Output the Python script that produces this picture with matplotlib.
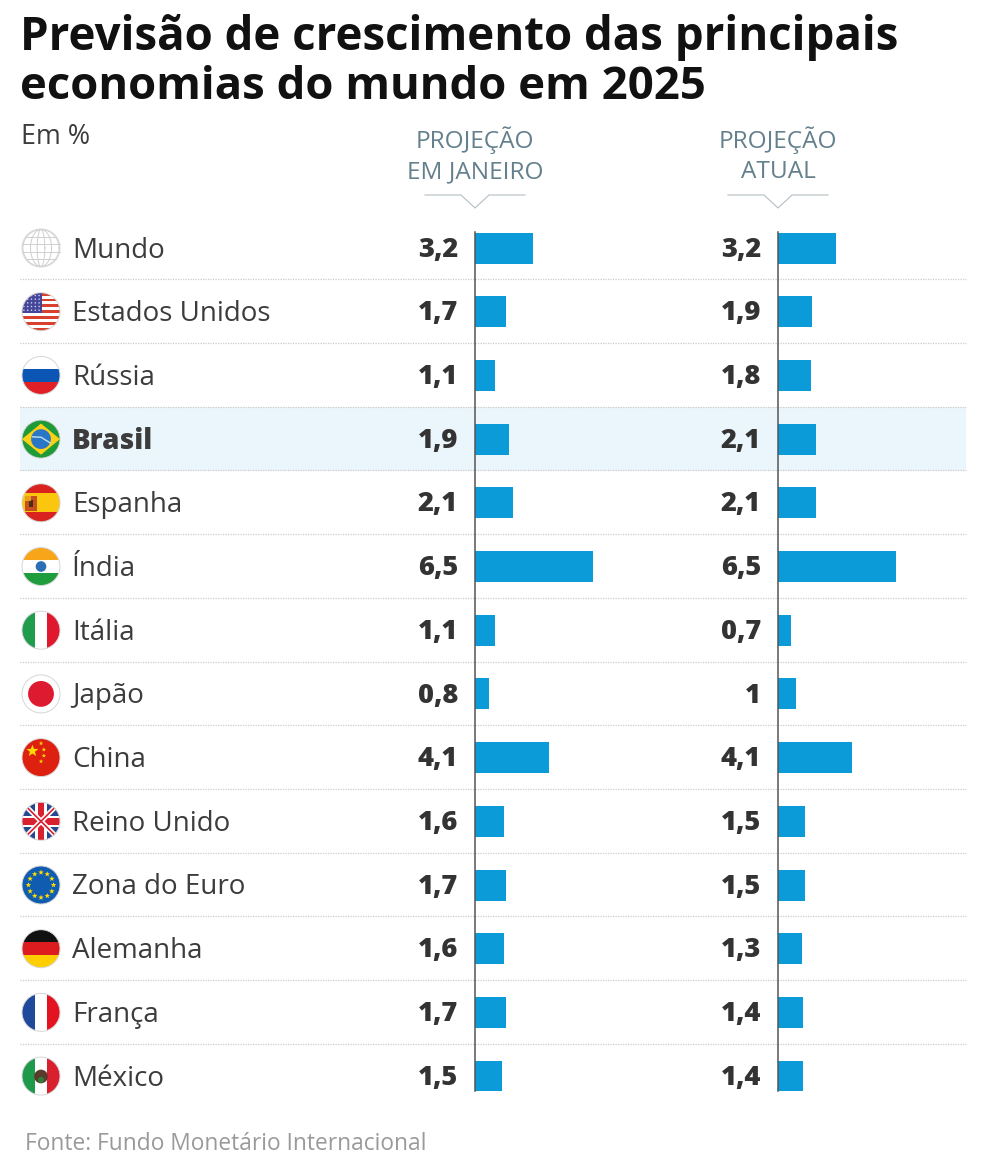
import numpy as np
import matplotlib
matplotlib.use('Agg')
import matplotlib.pyplot as plt
from matplotlib.patches import Circle, Rectangle, Polygon

plt.rcParams['font.family'] = ['Open Sans', 'DejaVu Sans']

### data
countries = ['Mundo', 'Estados Unidos', 'Rússia', 'Brasil', 'Espanha', 'Índia', 'Itália',
             'Japão', 'China', 'Reino Unido', 'Zona do Euro', 'Alemanha', 'França', 'México']
proj_janeiro = [3.2, 1.7, 1.1, 1.9, 2.1, 6.5, 1.1, 0.8, 4.1, 1.6, 1.7, 1.6, 1.7, 1.5]
proj_atual = [3.2, 1.9, 1.8, 2.1, 2.1, 6.5, 0.7, 1.0, 4.1, 1.5, 1.5, 1.3, 1.4, 1.4]
headers = [('PROJEÇÃO', 'EM JANEIRO'), ('PROJEÇÃO', 'ATUAL')]

W, H = 984, 1172
ROW0, ROW_H = 248, 63.7
BAR_X = [475, 778]
PX_PER_UNIT = 18.1
AX_TOP, AX_BOTTOM = 232, 1091
BLUE = '#0A9BD8'
TEXT = '#3C3C3C'


def label(v):
    return f'{v:g}'.replace('.', ',')


fig = plt.figure(figsize=(W / 100, H / 100), dpi=100, facecolor='white')

# background layer in pixel coordinates
bg = fig.add_axes([0, 0, 1, 1])
bg.set_xlim(0, W)
bg.set_ylim(H, 0)
bg.axis('off')


def star(ax, cx, cy, r, color, clip):
    a = np.arange(10) * np.pi / 5 - np.pi / 2
    rad = np.where(np.arange(10) % 2 == 0, r, r * 0.42)
    p = Polygon(np.c_[cx + rad * np.cos(a), cy + rad * np.sin(a)], fc=color, ec='none', zorder=4)
    ax.add_patch(p)
    p.set_clip_path(clip)


def flag(ax, name, cx, cy, r=19):
    clip = Circle((cx, cy), r, transform=ax.transData)

    def rect(x0, y0, x1, y1, color):
        # coordinates relative to the circle, -1..1
        p = Rectangle((cx + x0 * r, cy + y0 * r), (x1 - x0) * r, (y1 - y0) * r, fc=color, ec='none', zorder=3)
        ax.add_patch(p)
        p.set_clip_path(clip)

    def poly(pts, color):
        pts = np.array(pts) * r + [cx, cy]
        p = Polygon(pts, fc=color, ec='none', zorder=3)
        ax.add_patch(p)
        p.set_clip_path(clip)

    def disc(x, y, rad, color, ec='none', lw=0):
        p = Circle((cx + x * r, cy + y * r), rad * r, fc=color, ec=ec, lw=lw, zorder=4)
        ax.add_patch(p)
        p.set_clip_path(clip)

    if name == 'Mundo':
        disc(0, 0, 1, 'white')
        grey = '#CFCFCF'
        for w in [0.95, 0.55, 0.2]:
            t = np.linspace(0, 2 * np.pi, 80)
            ax.plot(cx + w * r * np.cos(t), cy + 0.97 * r * np.sin(t), color=grey, lw=0.7, zorder=5)
        for h in [-0.6, -0.2, 0.2, 0.6]:
            half = np.sqrt(1 - h ** 2) * r
            ax.plot([cx - half, cx + half], [cy + h * r, cy + h * r], color=grey, lw=0.7, zorder=5)
    elif name == 'Estados Unidos':
        rect(-1, -1, 1, 1, 'white')
        for i in range(7):
            y0 = -1 + i * 2 / 6.5
            rect(-1, y0, 1, y0 + 2 / 13, '#D8412F')
        rect(-1, -1, 0.05, 0.08, '#44469A')
        for y in np.linspace(-0.85, -0.08, 5):
            for x in np.linspace(-0.9, -0.1, 5):
                disc(x, y, 0.04, '#D5D5EE')
    elif name == 'Rússia':
        rect(-1, -1, 1, -0.33, 'white')
        rect(-1, -0.33, 1, 0.33, '#0B55B5')
        rect(-1, 0.33, 1, 1, '#E01F26')
    elif name == 'Brasil':
        rect(-1, -1, 1, 1, '#1E9A39')
        poly([(-1, 0), (0, -0.82), (1, 0), (0, 0.82)], '#FBD116')
        disc(0, 0, 0.52, '#2A76C6')
        ax.plot(cx + np.array([-0.45, 0, 0.48]) * r, cy + np.array([-0.12, -0.1, 0.2]) * r,
                color='#BFE0F0', lw=1.0, zorder=5)
    elif name == 'Espanha':
        rect(-1, -1, 1, 1, '#D9231F')
        rect(-1, -0.5, 1, 0.5, '#FBC70E')
        rect(-0.85, -0.35, -0.2, 0.42, '#C8501C')
        rect(-0.65, -0.15, -0.4, 0.2, '#4A3018')
        rect(-0.85, -0.35, -0.55, -0.1, '#E8A020')
    elif name == 'Índia':
        rect(-1, -1, 1, -0.33, '#F9A51A')
        rect(-1, -0.33, 1, 0.33, 'white')
        rect(-1, 0.33, 1, 1, '#1F9C3C')
        disc(0, 0, 0.28, '#2A6FB5')
    elif name == 'Itália':
        rect(-1, -1, -0.33, 1, '#1F9C4C')
        rect(-0.33, -1, 0.33, 1, 'white')
        rect(0.33, -1, 1, 1, '#E0182D')
    elif name == 'Japão':
        disc(0, 0, 1, 'white')
        disc(0, 0, 0.68, '#DE1A30')
    elif name == 'China':
        rect(-1, -1, 1, 1, '#DE2010')
        star(ax, cx - 0.45 * r, cy - 0.35 * r, 0.33 * r, '#FFD800', clip)
        for x, y in [(0.0, -0.75), (0.15, -0.42), (0.15, -0.1), (0.0, 0.2)]:
            star(ax, cx + x * r, cy + y * r, 0.12 * r, '#FFD800', clip)
    elif name == 'Reino Unido':
        rect(-1, -1, 1, 1, '#27478F')
        for s in [1, -1]:
            ax.plot([cx - r, cx + r], [cy - s * r, cy + s * r], color='white', lw=3.6, zorder=3.1,
                    clip_path=clip, solid_capstyle='butt')
            ax.plot([cx - r, cx + r], [cy - s * r, cy + s * r], color='#D8202F', lw=1.2, zorder=3.2,
                    clip_path=clip, solid_capstyle='butt')
        rect(-1, -0.3, 1, 0.3, 'white')
        rect(-0.3, -1, 0.3, 1, 'white')
        rect(-1, -0.17, 1, 0.17, '#D8202F')
        rect(-0.17, -1, 0.17, 1, '#D8202F')
    elif name == 'Zona do Euro':
        rect(-1, -1, 1, 1, '#0F5CB0')
        for a in np.arange(12) * np.pi / 6:
            star(ax, cx + 0.66 * r * np.cos(a), cy + 0.66 * r * np.sin(a), 0.15 * r, '#FFDD00', clip)
    elif name == 'Alemanha':
        rect(-1, -1, 1, -0.33, '#111111')
        rect(-1, -0.33, 1, 0.33, '#DD1C1F')
        rect(-1, 0.33, 1, 1, '#FFCE00')
    elif name == 'França':
        rect(-1, -1, -0.33, 1, '#1F4A9C')
        rect(-0.33, -1, 0.33, 1, 'white')
        rect(0.33, -1, 1, 1, '#E3141F')
    elif name == 'México':
        rect(-1, -1, -0.33, 1, '#1F9A4A')
        rect(-0.33, -1, 0.33, 1, 'white')
        rect(0.33, -1, 1, 1, '#D9202E')
        disc(0, 0.02, 0.36, '#5A3A2A')
        disc(0, 0.2, 0.16, '#2E7D3A')
    ax.add_patch(Circle((cx, cy), r, fc='none', ec='#D6D6D6', lw=0.7, zorder=6))


# title and notes
bg.text(20, 50, 'Previsão de crescimento das principais', fontsize=32.85, fontweight='bold',
        color='#111111', va='baseline', ha='left')
bg.text(20, 99, 'economias do mundo em 2025', fontsize=32.75, fontweight='bold',
        color='#111111', va='baseline', ha='left')
bg.text(21, 144, 'Em %', fontsize=19.4, color=TEXT, va='baseline')
bg.text(25, 1150, 'Fonte: Fundo Monetário Internacional', fontsize=16.35, color='#9A9A9A', va='baseline')

# highlight row
bg.add_patch(Rectangle((20, ROW0 + 3 * ROW_H - ROW_H / 2), 946, ROW_H, fc='#EBF6FC', ec='none', zorder=0))

for i, name in enumerate(countries):
    yc = ROW0 + i * ROW_H
    if i < len(countries) - 1:
        bg.plot([20, 966], [yc + ROW_H / 2 - 0.5] * 2, color='#CCCCCC', lw=0.9, ls=(0, (1, 1)), zorder=1)
    flag(bg, name, 41, yc)
    bg.text(72, yc + 9.5, name, fontsize=20, fontweight=800 if name == 'Brasil' else 'normal',
            color=TEXT, va='baseline', ha='left')

# column headers with chevron
for x0, head in zip(BAR_X, headers):
    bg.text(x0, 148.5, head[0], fontsize=17.6, color='#64808C', ha='center', va='baseline')
    bg.text(x0, 178.5, head[1], fontsize=17.6, color='#64808C', ha='center', va='baseline')
    bg.plot([x0 - 50, x0 - 14, x0, x0 + 14, x0 + 50], [195, 195, 208, 195, 195],
            color='#B4BEC2', lw=0.8, zorder=2)

# bar panels: one axes per column, x in %, y in row index
for x0, values in zip(BAR_X, [proj_janeiro, proj_atual]):
    width_px = 188
    ax = fig.add_axes([x0 / W, 1 - AX_BOTTOM / H, width_px / W, (AX_BOTTOM - AX_TOP) / H])
    ax.patch.set_alpha(0)
    ax.set_xlim(0, width_px / PX_PER_UNIT)
    ax.set_ylim((AX_BOTTOM - ROW0) / ROW_H, (AX_TOP - ROW0) / ROW_H)
    ax.barh(range(len(values)), values, height=31 / ROW_H, color=BLUE, zorder=2)
    for s in ['top', 'right', 'bottom']:
        ax.spines[s].set_visible(False)
    ax.spines['left'].set_color('#555555')
    ax.spines['left'].set_linewidth(1.1)
    ax.spines['left'].set_zorder(3)
    ax.set_xticks([])
    ax.set_yticks([])
    for i, v in enumerate(values):
        ax.annotate(label(v), (0, i), xytext=(-17 * 0.72, -6.2), textcoords='offset points', ha='right', va='baseline',
                    fontsize=19.6, fontweight=800, color='#333333', annotation_clip=False)

fig.savefig('out.png', dpi=100, facecolor='white')
